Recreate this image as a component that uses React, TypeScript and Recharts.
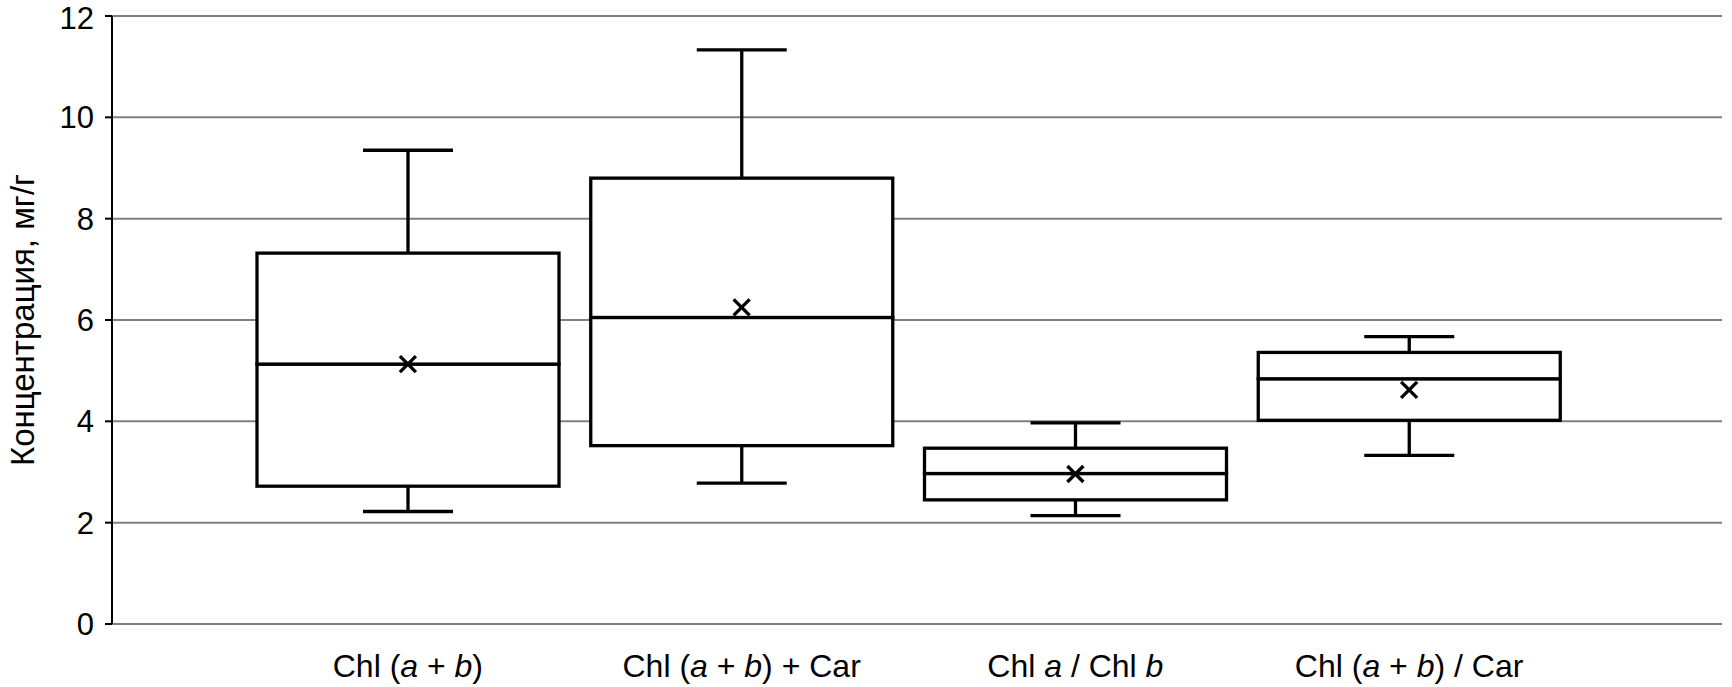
import React from "react";
import {
  Bar,
  CartesianGrid,
  ComposedChart,
  Scatter,
  XAxis,
  YAxis
} from "recharts";

const categories = ["Chl (a + b)", "Chl (a + b) + Car", "Chl a / Chl b", "Chl (a + b) / Car"];
const minValues = [2.22, 2.78, 2.14, 3.33];
const q1Values = [2.72, 3.52, 2.45, 4.02];
const medianValues = [5.13, 6.05, 2.97, 4.84];
const q3Values = [7.32, 8.8, 3.47, 5.36];
const maxValues = [9.35, 11.33, 3.97, 5.67];
const meanValues = [5.13, 6.25, 2.96, 4.62];
const yTicks = [0, 2, 4, 6, 8, 10, 12];

const FONT = '"Liberation Sans", Arial, sans-serif';
const STROKE = 3.3;
const CAP = 90;

// stacked segments: base (hidden), lower whisker, lower box, upper box, upper whisker
const data = categories.map((name, i) => ({
  name,
  base: minValues[i],
  lowWhisker: q1Values[i] - minValues[i],
  lowBox: medianValues[i] - q1Values[i],
  highBox: q3Values[i] - medianValues[i],
  highWhisker: maxValues[i] - q3Values[i],
  mean: meanValues[i]
}));

function LowWhisker(props: any) {
  const { x, y, width, height } = props;
  const cx = x + width / 2;
  return (
    <g stroke="#000" strokeWidth={STROKE}>
      <line x1={cx} x2={cx} y1={y} y2={y + height} />
      <line x1={cx - CAP / 2} x2={cx + CAP / 2} y1={y + height} y2={y + height} />
    </g>
  );
}

function HighWhisker(props: any) {
  const { x, y, width, height } = props;
  const cx = x + width / 2;
  return (
    <g stroke="#000" strokeWidth={STROKE}>
      <line x1={cx} x2={cx} y1={y} y2={y + height} />
      <line x1={cx - CAP / 2} x2={cx + CAP / 2} y1={y} y2={y} />
    </g>
  );
}

function BoxPart(props: any) {
  const { x, y, width, height } = props;
  return <rect x={x} y={y} width={width} height={height} fill="#fff" stroke="#000" strokeWidth={STROKE} />;
}

function MeanMark(props: any) {
  const { cx, cy } = props;
  const s = 8;
  return (
    <g stroke="#000" strokeWidth={3.3}>
      <line x1={cx - s} y1={cy - s} x2={cx + s} y2={cy + s} />
      <line x1={cx - s} y1={cy + s} x2={cx + s} y2={cy - s} />
    </g>
  );
}

function splitLabel(label: string) {
  return label.split(/\b([ab])\b/).map((text, i) => ({ text, italic: i % 2 === 1 }));
}

function CategoryTick(props: any) {
  const { x, y, payload } = props;
  return (
    <text x={x} y={y} dy={45} textAnchor="middle" fontSize={32} fontFamily={FONT} fill="#000">
      {splitLabel(payload.value).map((p, i) => (
        <tspan key={i} fontStyle={p.italic ? "italic" : undefined}>
          {p.text}
        </tspan>
      ))}
    </text>
  );
}

function AxisTitle(props: any) {
  const { viewBox } = props;
  const x = viewBox.x + 22;
  const y = viewBox.y + viewBox.height / 2;
  return (
    <text
      x={x}
      y={y}
      transform={`rotate(-90, ${x}, ${y})`}
      textAnchor="middle"
      dominantBaseline="central"
      fontSize={33}
      fontFamily={FONT}
      fill="#000"
    >
      Концентрация, мг/г
    </text>
  );
}

export default function App() {
  return (
    <div style={{ position: "absolute", left: 0, top: 0 }}>
      <ComposedChart width={1732} height={687} data={data} margin={{ top: 16, right: 10, bottom: 0, left: 0 }}>
        <CartesianGrid vertical={false} stroke="#808080" strokeWidth={2} />
        <XAxis
          dataKey="name"
          axisLine={false}
          tickLine={false}
          height={63}
          padding={{ left: 129, right: 146 }}
          tick={<CategoryTick />}
          interval={0}
        />
        <YAxis
          domain={[0, 12]}
          ticks={yTicks}
          width={112}
          axisLine={{ stroke: "#000", strokeWidth: 2 }}
          tickLine={{ stroke: "#000", strokeWidth: 2 }}
          tickSize={7}
          tickMargin={11}
          tick={{ fontSize: 31, fontFamily: FONT, fill: "#000" }}
          label={<AxisTitle />}
        />
        <Bar dataKey="base" stackId="box" fill="none" barSize={302} isAnimationActive={false} />
        <Bar dataKey="lowWhisker" stackId="box" barSize={302} shape={<LowWhisker />} isAnimationActive={false} />
        <Bar dataKey="lowBox" stackId="box" barSize={302} shape={<BoxPart />} isAnimationActive={false} />
        <Bar dataKey="highBox" stackId="box" barSize={302} shape={<BoxPart />} isAnimationActive={false} />
        <Bar dataKey="highWhisker" stackId="box" barSize={302} shape={<HighWhisker />} isAnimationActive={false} />
        <Scatter dataKey="mean" shape={<MeanMark />} isAnimationActive={false} />
      </ComposedChart>
    </div>
  );
}
